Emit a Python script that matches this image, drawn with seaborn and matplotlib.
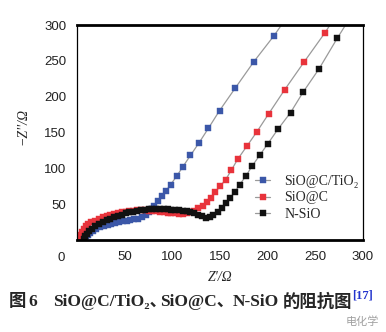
import matplotlib
matplotlib.use("Agg")
import matplotlib.pyplot as plt
import seaborn as sns
import pandas as pd

# ---- data (Z', -Z'') ----
blue_x = [226, 206.6, 185.6, 166, 149.5, 137.9, 127.7, 119, 110.8, 104.5, 98.2, 93.4, 88.7, 85, 81, 77.6,
          75, 72, 68, 64, 60, 56, 52, 48, 44, 40, 36, 32, 28, 24, 20, 17, 14, 11.5, 9.5, 8, 7]
blue_y = [322, 285, 249, 212, 180.5, 156, 135, 118, 101.8, 88.9, 77.4, 68.5, 61, 54, 48, 43,
          39, 35.5, 32, 30, 29, 28, 27, 26, 25, 24, 22.5, 21, 19.5, 17.5, 15, 12.5, 10, 7.5, 5, 3, 1]

red_x = [280, 260, 238, 218, 201, 188.7, 178, 168.7, 161.7, 155.8, 150, 145, 140.7, 136, 132, 127.4,
         123, 119, 115, 111, 107, 103, 99, 95, 91, 87, 83, 79, 75, 71, 67, 63, 59, 55, 51, 47, 43,
         39, 35, 31, 27, 23, 19, 15, 12, 9, 7, 5, 4, 3]
red_y = [330, 289, 248, 210, 176, 151, 130.6, 113, 97, 84, 75, 66.7, 59, 53, 48, 44,
         41, 39, 37.5, 36.5, 36.5, 37, 37.5, 38, 38.5, 39, 40, 40.5, 41, 41.5, 41.5, 41.5, 41, 40.5, 39.5, 38.5, 37.5,
         36.5, 35, 33.5, 31.5, 29.5, 27, 24.5, 22, 19, 15.5, 11, 6.5, 2]

black_x = [292, 273, 253.7, 237.5, 224, 211, 200, 191.5, 183.5, 177, 170.5, 165.6, 160.7, 156.5, 152, 147.7,
           143, 139, 135, 131, 127, 123, 119, 115, 111, 107, 103, 99, 95, 91, 87, 83, 79, 75, 71, 67,
           63, 59, 55, 51, 47, 43, 39, 35, 31, 27, 23, 19, 16, 13, 10, 8, 7]
black_y = [322, 281.5, 238.4, 207, 177.8, 155, 134, 118, 102.8, 89, 77, 67, 59, 52, 45, 39,
           34.5, 31.5, 31, 33, 35.5, 37.5, 39, 40, 40.7, 41.5, 42, 42.5, 43, 43, 43.5, 43.5, 43.5, 43, 42.5, 41.5,
           40.5, 39.5, 38.5, 37, 35.5, 34, 32, 30, 28, 25.5, 22.5, 19.5, 16, 12.5, 8.5, 5, 2]

series_names = ["SiO@C/TiO\u2082", "SiO@C", "N-SiO"]
series_colors = ["#3b57a8", "#e8333b", "#111111"]
xticks = [50, 100, 150, 200, 250, 300]
yticks = [0, 50, 100, 150, 200, 250, 300]

sns.set_style("white")
serif = ["Liberation Serif", "DejaVu Serif", "Noto Sans CJK SC"]
plt.rcParams["font.family"] = ["Liberation Sans", "DejaVu Sans"]

W, H = 386, 332
fig = plt.figure(figsize=(W / 100, H / 100), dpi=100)
ax = fig.add_axes([77 / W, 1 - 240 / H, (363 - 77) / W, (240 - 25) / H])

for xs, ys, name, col in zip([blue_x, red_x, black_x], [blue_y, red_y, black_y], series_names, series_colors):
    df = pd.DataFrame({"x": xs, "y": ys})
    sns.lineplot(data=df, x="x", y="y", sort=False, estimator=None, ax=ax,
                 color="#9a9a9a", linewidth=0.9, marker="s", markersize=3.8,
                 markerfacecolor=col, markeredgecolor=col, markeredgewidth=0.3, label=name)

ax.set_xlim(0, 300)
ax.set_ylim(0, 300)
ax.set_xticks(xticks)
ax.set_yticks(yticks)
ax.set_yticklabels([""] + [str(t) for t in yticks[1:]])
ax.tick_params(direction="in", length=4, width=0.8, colors="black", labelsize=9.5)
ax.tick_params(axis="x", pad=8)
ax.tick_params(axis="y", pad=7.5)
for lbl in ax.get_xticklabels() + ax.get_yticklabels():
    lbl.set_color("#222222")

for side in ["top", "bottom"]:
    ax.spines[side].set_linewidth(2.0)
for side in ["left", "right"]:
    ax.spines[side].set_linewidth(0.9)
for s in ax.spines.values():
    s.set_color("black")
    s.set_visible(True)

ax.set_xlabel("Z'/Ω", family=serif, fontstyle="italic", fontsize=10, labelpad=6)
ax.set_ylabel("\u2212Z''/Ω", family=serif, fontstyle="italic", fontsize=10)
ax.yaxis.set_label_coords(-0.165, 0.53)

fig.text(61 / W, 1 - 258 / H, "0", ha="center", va="center", fontsize=9.5, color="#222222")

leg = ax.legend(loc="upper left", bbox_to_anchor=(255 / W, 1 - 175 / H), bbox_transform=fig.transFigure,
                frameon=False, borderpad=0, borderaxespad=0, handlelength=1.1, handletextpad=1.0,
                labelspacing=0.25, prop={"family": serif, "size": 10})

cap_y = 1 - 302 / H
cap_parts = [(9, "图"), (28, "6"), (53, "SiO@C/TiO\u2082、"), (160, "SiO@C、"), (233, "N-SiO"), (283, "的阻抗图")]
for px, txt in cap_parts:
    fig.text(px / W, cap_y, txt, ha="left", va="center", fontsize=12.5, fontweight="bold", family=serif)
fig.text(352 / W, 1 - 295 / H, "[17]", ha="left", va="center", fontsize=9,
         fontweight="bold", family=serif, color="#2233cc")
fig.text(362 / W, 1 - 322 / H, "电化学", ha="center", va="center", fontsize=8,
         family=["Noto Sans CJK SC"], color="#888888", alpha=0.8)

fig.savefig("out.png", dpi=100)
